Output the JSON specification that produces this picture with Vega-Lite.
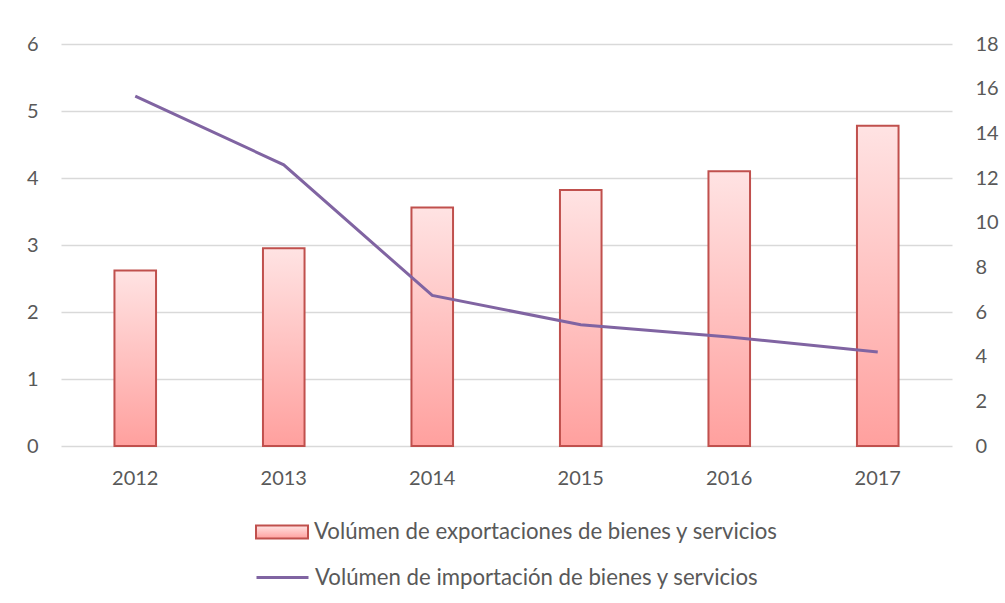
{
  "$schema": "https://vega.github.io/schema/vega-lite/v6.json",
  "width": 891,
  "height": 402,
  "autosize": {"type": "none"},
  "padding": {"left": 61, "top": 44, "right": 53, "bottom": 157},
  "background": "white",
  "config": {
    "view": {"stroke": null},
    "font": "Lato",
    "axis": {"labelFont": "Lato", "labelColor": "#595959", "labelFontSize": 20, "ticks": false, "domain": false, "title": null}
  },
  "data": {
    "values": [
      {"year": "2012", "exp": 2.62, "imp": 15.67},
      {"year": "2013", "exp": 2.95, "imp": 12.59},
      {"year": "2014", "exp": 3.56, "imp": 6.74},
      {"year": "2015", "exp": 3.82, "imp": 5.43},
      {"year": "2016", "exp": 4.10, "imp": 4.88},
      {"year": "2017", "exp": 4.78, "imp": 4.21}
    ]
  },
  "encoding": {
    "x": {
      "field": "year",
      "type": "nominal",
      "scale": {"paddingInner": 0.72, "paddingOuter": 0.36},
      "axis": {"labelAngle": 0, "labelPadding": 22, "grid": false}
    }
  },
  "layer": [
    {
      "mark": {
        "type": "bar",
        "fill": {
          "gradient": "linear",
          "x1": 0, "y1": 0, "x2": 0, "y2": 1,
          "stops": [
            {"offset": 0, "color": "#FFE3E3"},
            {"offset": 1, "color": "#FFA09E"}
          ]
        },
        "strokeWidth": 2
      },
      "encoding": {
        "y": {
          "field": "exp",
          "type": "quantitative",
          "scale": {"domain": [0, 6]},
          "axis": {"values": [0, 1, 2, 3, 4, 5, 6], "grid": true, "gridColor": "#D9D9D9", "gridWidth": 1.5, "labelPadding": 23}
        },
        "stroke": {
          "datum": "Volúmen de exportaciones de bienes y servicios",
          "scale": {"range": ["#C0504D"]},
          "legend": {
            "title": null,
            "orient": "none",
            "legendX": 194,
            "legendY": 461,
            "padding": 0,
            "symbolType": "M-1,-0.25H1V0.25H-1Z",
            "symbolSize": 2704,
            "symbolFillColor": "#FFC8C8",
            "symbolStrokeWidth": 2,
            "labelFont": "Lato",
            "labelFontSize": 22.2,
            "labelColor": "#595959",
            "labelOffset": 5,
            "labelLimit": 700
          }
        }
      }
    },
    {
      "mark": {"type": "line", "strokeWidth": 3},
      "encoding": {
        "y": {
          "field": "imp",
          "type": "quantitative",
          "scale": {"domain": [0, 18]},
          "axis": {"orient": "right", "values": [0, 2, 4, 6, 8, 10, 12, 14, 16, 18], "grid": false, "labelPadding": 23}
        },
        "stroke": {
          "datum": "Volúmen de importación de bienes y servicios",
          "scale": {"range": ["#8064A2"]},
          "legend": {
            "title": null,
            "orient": "none",
            "legendX": 194,
            "legendY": 506,
            "padding": 0,
            "symbolType": "M-1,0H1",
            "symbolSize": 2704,
            "symbolStrokeWidth": 3,
            "labelFont": "Lato",
            "labelFontSize": 22.2,
            "labelColor": "#595959",
            "labelOffset": 5,
            "labelLimit": 700
          }
        }
      }
    }
  ],
  "resolve": {"scale": {"y": "independent", "stroke": "independent"}}
}
